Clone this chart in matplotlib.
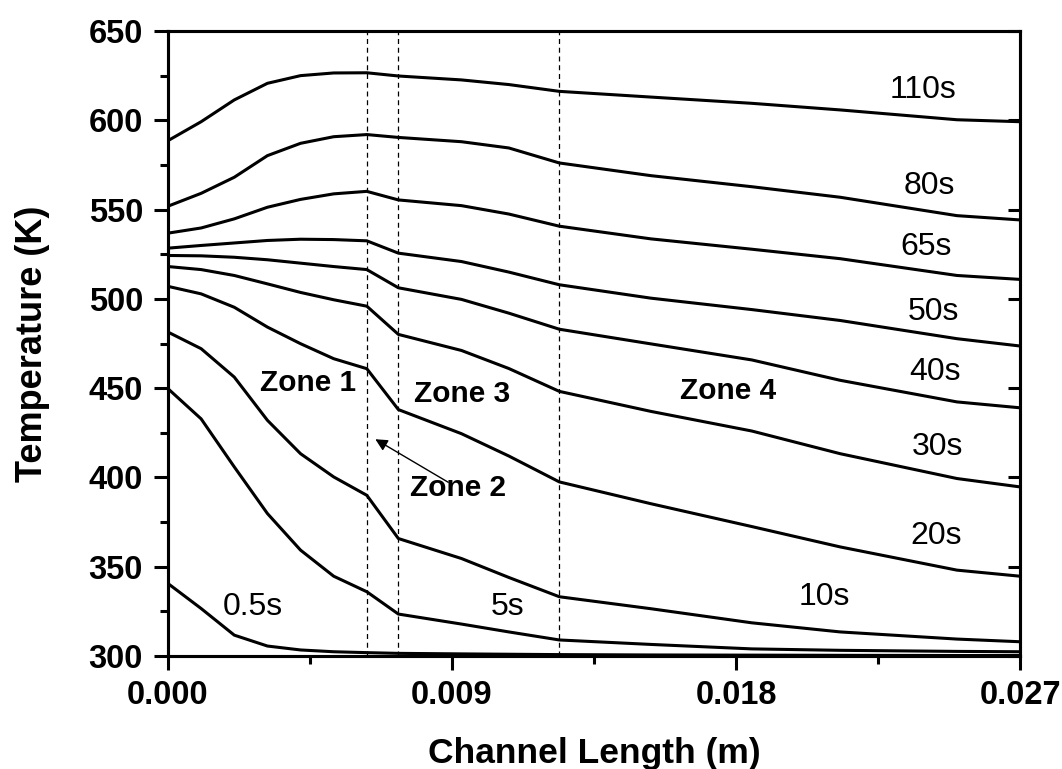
import matplotlib
matplotlib.use('Agg')
import matplotlib.pyplot as plt
from matplotlib.ticker import MultipleLocator, FormatStrFormatter

plt.rcParams['font.family'] = ['Liberation Sans', 'DejaVu Sans']

# channel position (m)
x = [0, 0.00105, 0.0021, 0.00315, 0.0042, 0.00525, 0.0063, 0.0073,
     0.0093, 0.0108, 0.0124, 0.0153, 0.0185, 0.0213, 0.025, 0.027]

# temperature (K) at each time
T_110 = [588.6, 599.2, 611.4, 620.7, 625.0, 626.5, 626.6, 624.8,
         622.6, 620.0, 616.2, 613.0, 609.5, 605.8, 600.3, 599.2]
T_80 = [551.9, 559.1, 568.1, 580.2, 587.1, 590.8, 592.0, 590.4,
        588.0, 584.5, 576.1, 569.0, 562.8, 556.9, 546.6, 544.2]
T_65 = [536.8, 539.7, 544.8, 551.3, 555.7, 558.8, 560.2, 555.4,
        552.2, 547.5, 540.7, 533.6, 527.8, 522.5, 513.1, 510.9]
T_50 = [528.4, 529.9, 531.3, 532.7, 533.4, 533.2, 532.5, 525.6,
        520.9, 515.0, 507.9, 500.4, 494.0, 487.9, 477.7, 473.6]
T_40 = [524.3, 524.1, 523.3, 521.9, 520.0, 518.1, 516.4, 506.2,
        499.7, 492.0, 483.0, 474.8, 465.8, 454.4, 442.3, 439.0]
T_30 = [518.1, 516.4, 513.1, 508.4, 503.6, 499.5, 495.9, 480.1,
        471.1, 461.0, 448.2, 437.0, 426.0, 413.3, 399.4, 394.7]
T_20 = [507.0, 502.8, 495.3, 484.2, 474.9, 466.5, 460.9, 438.0,
        424.5, 412.0, 397.5, 385.3, 372.5, 361.1, 348.1, 344.7]
T_10 = [481.4, 472.1, 456.2, 432.0, 413.3, 400.3, 390.0, 365.8,
        354.6, 344.0, 333.2, 326.5, 318.6, 313.5, 309.5, 308.0]
T_5 = [449.7, 432.8, 405.9, 379.8, 359.3, 344.7, 336.0, 323.5,
       317.9, 313.5, 309.0, 306.5, 304.0, 303.2, 302.6, 302.4]
T_05 = [340.6, 326.6, 311.7, 305.6, 303.4, 302.4, 301.9, 301.5,
        301.2, 301.0, 300.8, 300.6, 300.5, 300.4, 300.3, 300.3]

curves = [T_110, T_80, T_65, T_50, T_40, T_30, T_20, T_10, T_5, T_05]

# curve labels and where they sit
time_labels = ['110s', '80s', '65s', '50s', '40s', '30s', '20s', '10s', '5s', '0.5s']
label_x = [0.02392, 0.02414, 0.02402, 0.02424, 0.0243, 0.02437, 0.02434, 0.02081, 0.01076, 0.0027]
label_y = [617.1, 563.4, 529.3, 492.4, 458.8, 416.9, 367.1, 333.0, 327.4, 327.4]

# zone boundaries
zone_x = [0.0063, 0.0073, 0.0124]
zone_labels = ['Zone 1', 'Zone 3', 'Zone 2', 'Zone 4']
zone_lx = [0.00444, 0.00933, 0.0092, 0.01774]
zone_ly = [452.7, 446.5, 394.0, 448.2]

fig = plt.figure(figsize=(10.62, 7.69), dpi=100)
ax = fig.add_axes([0.1582, 0.1469, 0.8023, 0.8128])

for T in curves:
    ax.plot(x, T, color='black', lw=2.2, solid_joinstyle='round')

for zx in zone_x:
    ax.axvline(zx, color='black', lw=0.9, ls=(0, (4, 3)))

for lab, lx, ly in zip(time_labels, label_x, label_y):
    ax.text(lx, ly, lab, fontsize=23, ha='center', va='center')

for lab, lx, ly in zip(zone_labels, zone_lx, zone_ly):
    ax.text(lx, ly, lab, fontsize=21.5, fontweight='bold', ha='center', va='center')

ax.annotate('', xy=(0.00657, 421.4), xytext=(0.00888, 397.3),
            arrowprops=dict(arrowstyle='-|>', color='black', lw=1.0,
                            mutation_scale=18, shrinkA=0, shrinkB=0))

ax.set_xlim(0, 0.027)
ax.set_ylim(300, 650)
ax.xaxis.set_major_locator(MultipleLocator(0.009))
ax.xaxis.set_minor_locator(MultipleLocator(0.0045))
ax.xaxis.set_major_formatter(FormatStrFormatter('%.3f'))
ax.yaxis.set_major_locator(MultipleLocator(50))
ax.yaxis.set_minor_locator(MultipleLocator(25))

ax.tick_params(which='major', direction='out', length=10, width=2.2, labelsize=23.5, pad=8)
ax.tick_params(which='minor', direction='out', length=5.5, width=2.2)
ax.tick_params(axis='x', which='major', pad=7)
for lab in ax.get_xticklabels() + ax.get_yticklabels():
    lab.set_fontweight('bold')

# inward major ticks on the right side
ax2 = ax.twinx()
ax2.set_ylim(300, 650)
ax2.yaxis.set_major_locator(MultipleLocator(50))
ax2.tick_params(axis='y', direction='in', length=9, width=2.2, labelright=False)

for a in (ax, ax2):
    for s in a.spines.values():
        s.set_linewidth(2.2)

ax.set_xlabel('Channel Length (m)', fontsize=25.5, fontweight='bold', labelpad=19)
ax.set_ylabel('Temperature (K)', fontsize=26, fontweight='bold', labelpad=28)

fig.savefig('out.png', dpi=100)
